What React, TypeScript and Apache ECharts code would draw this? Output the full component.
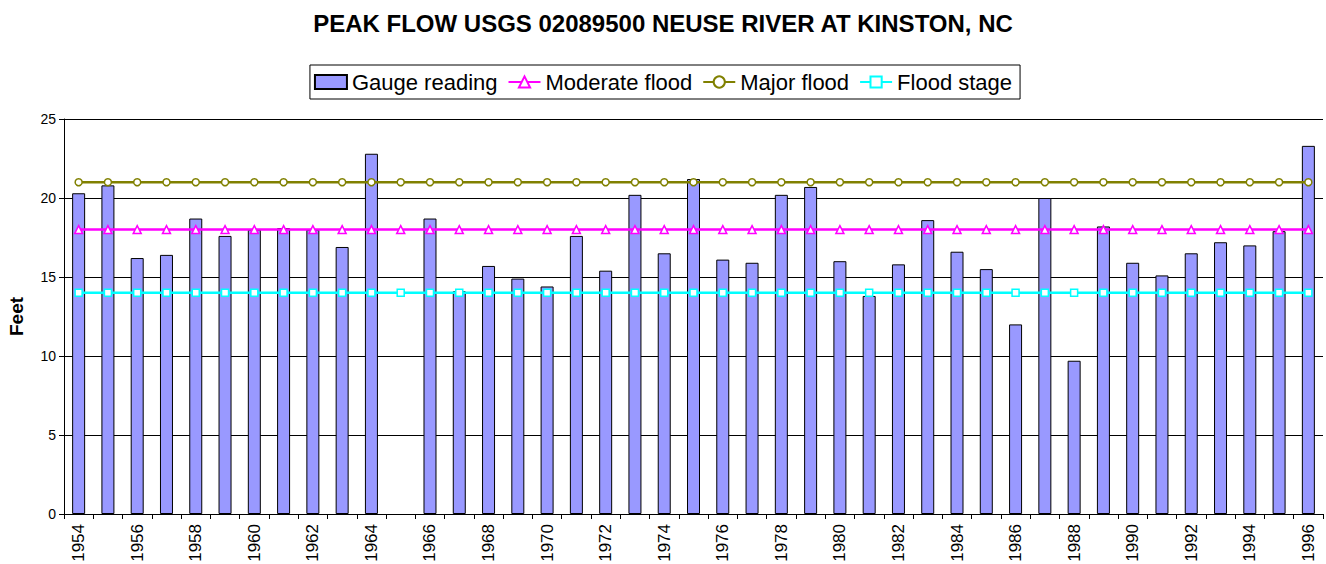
import React, { useEffect, useRef } from "react";
import * as echarts from "echarts";

const years: string[] = [];
for (let y = 1954; y <= 1996; y++) years.push(String(y));

const gauge: (number | null)[] = [
  20.3, 20.8, 16.2, 16.4, 18.7, 17.6, 18.0, 18.1, 18.0, 16.9,
  22.8, null, 18.7, 14.1, 15.7, 14.9, 14.4, 17.6, 15.4, 20.2,
  16.5, 21.2, 16.1, 15.9, 20.2, 20.7, 16.0, 13.8, 15.8, 18.6,
  16.6, 15.5, 12.0, 20.0, 9.7, 18.2, 15.9, 15.1, 16.5, 17.2,
  17.0, 17.9, 23.3,
];
const moderateFlood: number[] = years.map(() => 18);
const majorFlood: number[] = years.map(() => 21);
const floodStage: number[] = years.map(() => 14);

const FONT = "Liberation Sans, Arial, sans-serif";

export default function App() {
  const ref = useRef<HTMLDivElement>(null);
  useEffect(() => {
    if (!ref.current) return;
    const chart = echarts.init(ref.current, undefined, { renderer: "svg" });
    chart.setOption({
      animation: false,
      backgroundColor: "#ffffff",
      textStyle: { fontFamily: FONT },
      title: {
        text: "PEAK FLOW USGS 02089500 NEUSE RIVER AT KINSTON, NC",
        left: "center",
        top: 6,
        textStyle: { fontFamily: FONT, fontSize: 24, fontWeight: "bold", color: "#000" },
      },
      legend: {
        top: 65,
        left: "center",
        borderColor: "#000",
        borderWidth: 1,
        padding: [6, 8, 6, 4],
        itemGap: 10,
        itemWidth: 32,
        itemHeight: 14,
        textStyle: { fontFamily: FONT, fontSize: 22, color: "#000" },
        data: [
          { name: "Gauge reading", icon: "rect" },
          "Moderate flood",
          "Major flood",
          "Flood stage",
        ],
      },
      grid: {
        left: 64,
        right: 3,
        top: 119,
        bottom: 50,
        containLabel: false,
        outerBoundsMode: "none",
      },
      xAxis: {
        type: "category",
        data: years,
        boundaryGap: true,
        axisLine: { lineStyle: { color: "#000", width: 1 } },
        axisTick: { show: true, interval: 0, length: 5, lineStyle: { color: "#000" } },
        axisLabel: {
          interval: 1,
          rotate: 90,
          fontFamily: FONT,
          fontSize: 17,
          color: "#000",
          margin: 10,
        },
      },
      yAxis: {
        type: "value",
        min: 0,
        max: 25,
        interval: 5,
        name: "Feet",
        nameLocation: "middle",
        nameGap: 38,
        nameRotate: 90,
        nameTextStyle: { fontFamily: FONT, fontSize: 19, fontWeight: "bold", color: "#000" },
        axisLine: { show: true, lineStyle: { color: "#000" } },
        axisTick: { show: true, length: 5, lineStyle: { color: "#000" } },
        axisLabel: { fontFamily: FONT, fontSize: 14, color: "#000", margin: 8 },
        splitLine: { show: true, lineStyle: { color: "#000", width: 1 } },
      },
      series: [
        {
          name: "Gauge reading",
          type: "bar",
          data: gauge,
          barWidth: 13,
          itemStyle: { color: "#9999FF", borderColor: "#000", borderWidth: 1 },
        },
        {
          name: "Moderate flood",
          type: "line",
          data: moderateFlood,
          symbol: "triangle",
          symbolSize: 8,
          lineStyle: { color: "#FF00FF", width: 2.5 },
          itemStyle: { color: "#fff", borderColor: "#FF00FF", borderWidth: 1.5 },
        },
        {
          name: "Major flood",
          type: "line",
          data: majorFlood,
          symbol: "circle",
          symbolSize: 7,
          lineStyle: { color: "#808000", width: 2.5 },
          itemStyle: { color: "#fff", borderColor: "#808000", borderWidth: 1.5 },
        },
        {
          name: "Flood stage",
          type: "line",
          data: floodStage,
          symbol: "rect",
          symbolSize: 7,
          lineStyle: { color: "#00FFFF", width: 2.5 },
          itemStyle: { color: "#fff", borderColor: "#00FFFF", borderWidth: 1.5 },
        },
      ],
    });
    return () => chart.dispose();
  }, []);
  return (
    <div
      ref={ref}
      style={{ position: "fixed", left: 0, top: 0, width: 1326, height: 564 }}
    />
  );
}
